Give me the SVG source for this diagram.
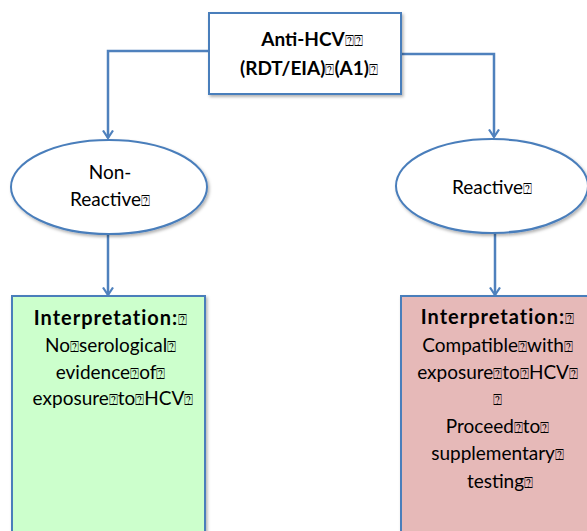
<svg xmlns="http://www.w3.org/2000/svg" width="587" height="531" viewBox="0 0 587 531">
  <defs>
    <filter id="shadow" x="-10%" y="-10%" width="130%" height="130%">
      <feDropShadow dx="1.5" dy="2" stdDeviation="1.5" flood-color="#000" flood-opacity="0.3"/>
    </filter>
    <marker id="arrow" viewBox="0 0 10 12" refX="8.5" refY="6" markerWidth="10" markerHeight="12" markerUnits="userSpaceOnUse" orient="auto">
      <polyline points="1,1 8.5,6 1,11" fill="none" stroke="#4f81bd" stroke-width="2.2"/>
    </marker>
    <style>
      .shape { stroke: #4a7ebb; stroke-width: 2; filter: url(#shadow); }
      .link { fill: none; stroke: #4f81bd; stroke-width: 2.5; }
      text { font-family: Lato, "Open Sans", "Liberation Sans", "DejaVu Sans", sans-serif; fill: #000; text-anchor: middle; }
      .b { font-weight: bold; }
      .h { font-weight: bold; font-size: 20px; letter-spacing: 1px; }
      .q { font-family: "DejaVu Sans", sans-serif; font-size: 15px; font-weight: normal; letter-spacing: 0; }
    </style>
  </defs>

  <!-- connectors -->
  <g id="connectors">
    <path class="link" d="M208,51 H108 V138" marker-end="url(#arrow)"/>
    <path class="link" d="M401,54 H494 V137" marker-end="url(#arrow)"/>
    <path class="link" d="M108,234 V295" marker-end="url(#arrow)"/>
    <path class="link" d="M495,233 V295" marker-end="url(#arrow)"/>
  </g>

  <!-- screening test -->
  <g id="screen">
    <rect class="shape" x="209" y="13" width="192" height="81" fill="#fff"/>
    <text class="b" font-size="19" x="312" y="46">Anti-HCV<tspan class="q">⍰⍰</tspan></text>
    <text class="b" font-size="19" x="309" y="75">(RDT/EIA)<tspan class="q">⍰</tspan>(A1)<tspan class="q">⍰</tspan></text>
  </g>

  <!-- results -->
  <g id="nonreactive">
    <ellipse class="shape" cx="109" cy="187" rx="98" ry="47" fill="#fff"/>
    <text font-size="19" x="110" y="179">Non-</text>
    <text font-size="19" x="110" y="206">Reactive<tspan class="q">⍰</tspan></text>
  </g>
  <g id="reactive">
    <ellipse class="shape" cx="492" cy="186" rx="96" ry="47" fill="#fff"/>
    <text font-size="19" x="492" y="194">Reactive<tspan class="q">⍰</tspan></text>
  </g>

  <!-- interpretations -->
  <g id="interp-negative">
    <rect class="shape" x="12" y="296" width="193" height="250" fill="#ccffcc"/>
    <text font-size="19" x="113">
      <tspan class="h" x="113" y="325">Interpretation:<tspan class="q">⍰</tspan></tspan>
      <tspan x="113" y="352">No<tspan class="q">⍰</tspan>serological<tspan class="q">⍰</tspan></tspan>
      <tspan x="113" y="379">evidence<tspan class="q">⍰</tspan>of<tspan class="q">⍰</tspan></tspan>
      <tspan x="113" y="405">exposure<tspan class="q">⍰</tspan>to<tspan class="q">⍰</tspan>HCV<tspan class="q">⍰</tspan></tspan>
    </text>
  </g>
  <g id="interp-positive">
    <rect class="shape" x="401" y="296" width="200" height="250" fill="#e6b9b8"/>
    <text font-size="19" x="500">
      <tspan class="h" x="500" y="324">Interpretation:<tspan class="q">⍰</tspan></tspan>
      <tspan x="500" y="352">Compatible<tspan class="q">⍰</tspan>with<tspan class="q">⍰</tspan></tspan>
      <tspan x="500" y="379">exposure<tspan class="q">⍰</tspan>to<tspan class="q">⍰</tspan>HCV<tspan class="q">⍰</tspan></tspan>
      <tspan class="q" x="500" y="405">⍰</tspan>
      <tspan x="500" y="433">Proceed<tspan class="q">⍰</tspan>to<tspan class="q">⍰</tspan></tspan>
      <tspan x="500" y="460">supplementary<tspan class="q">⍰</tspan></tspan>
      <tspan x="500" y="488">testing<tspan class="q">⍰</tspan></tspan>
    </text>
  </g>
</svg>
